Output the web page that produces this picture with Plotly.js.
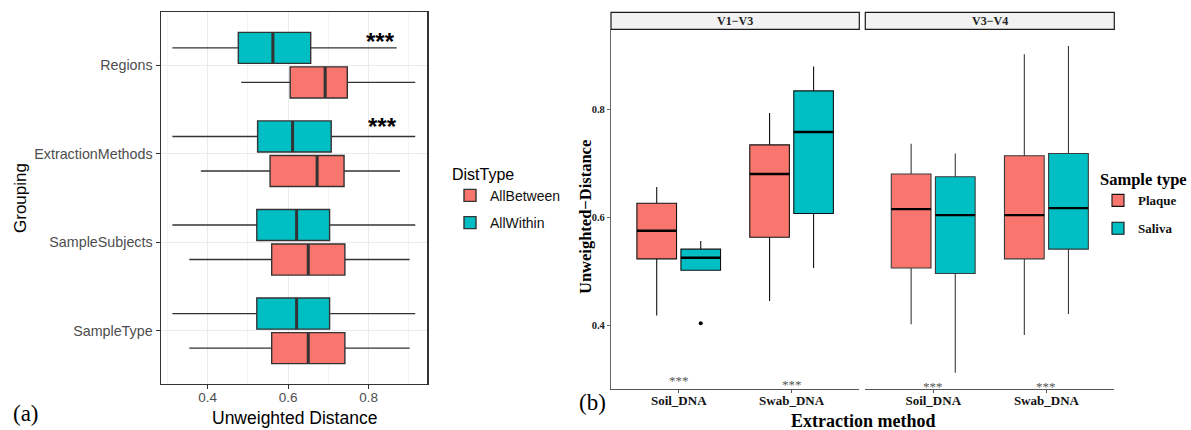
<!DOCTYPE html>
<html>
<head>
<meta charset="utf-8">
<script src="https://cdn.plot.ly/plotly-3.0.1.min.js"></script>
<style>html,body{margin:0;padding:0;background:#fff;}#chart{width:1191px;height:430px;}</style>
</head>
<body>
<div id="chart"></div>
<script>
// ---------- Panel (a) data ----------
const groupingCats = ['Regions', 'ExtractionMethods', 'SampleSubjects', 'SampleType'];
const groupingOrder = ['SampleType', 'SampleSubjects', 'ExtractionMethods', 'Regions'];
const betweenLower  = [0.483, 0.383, 0.354, 0.354];
const betweenQ1     = [0.605, 0.555, 0.559, 0.559];
const betweenMedian = [0.692, 0.672, 0.650, 0.650];
const betweenQ3     = [0.747, 0.739, 0.741, 0.741];
const betweenUpper  = [0.916, 0.878, 0.902, 0.902];
const withinLower   = [0.312, 0.312, 0.312, 0.312];
const withinQ1      = [0.476, 0.524, 0.522, 0.522];
const withinMedian  = [0.562, 0.611, 0.621, 0.621];
const withinQ3      = [0.656, 0.707, 0.703, 0.703];
const withinUpper   = [0.870, 0.916, 0.916, 0.916];
const starCatsA = ['Regions', 'ExtractionMethods'];
const starXA    = [0.829, 0.835];
const starLabelA = '***';

// ---------- Panel (b) data ----------
const methods = ['Soil_DNA', 'Swab_DNA'];
const facets = ['V1\u2212V3', 'V3\u2212V4'];
// V1-V3
const v13PlaqueLower  = [0.418, 0.445];
const v13PlaqueQ1     = [0.523, 0.563];
const v13PlaqueMedian = [0.575, 0.680];
const v13PlaqueQ3     = [0.626, 0.734];
const v13PlaqueUpper  = [0.656, 0.793];
const v13SalivaLower  = [0.502, 0.506];
const v13SalivaQ1     = [0.502, 0.607];
const v13SalivaMedian = [0.525, 0.758];
const v13SalivaQ3     = [0.541, 0.834];
const v13SalivaUpper  = [0.556, 0.879];
const v13SalivaOutlierCat = ['Soil_DNA'];
const v13SalivaOutlier    = [0.404];
// V3-V4
const v34PlaqueLower  = [0.402, 0.382];
const v34PlaqueQ1     = [0.506, 0.523];
const v34PlaqueMedian = [0.615, 0.604];
const v34PlaqueQ3     = [0.680, 0.714];
const v34PlaqueUpper  = [0.736, 0.902];
const v34SalivaLower  = [0.312, 0.421];
const v34SalivaQ1     = [0.496, 0.541];
const v34SalivaMedian = [0.604, 0.617];
const v34SalivaQ3     = [0.675, 0.718];
const v34SalivaUpper  = [0.718, 0.917];
const starYB13 = [0.298, 0.291];
const starYB34 = [0.287, 0.287];

const RED = '#F8766D', TEAL = '#00BFC4';
const SANS = 'Liberation Sans, Arial, sans-serif';
const SERIF = 'Liberation Serif, Times New Roman, serif';

function boxTrace(o) {
  const t = {
    type: 'box', name: o.name, orientation: o.h ? 'h' : 'v',
    q1: o.q1, median: o.median, q3: o.q3, lowerfence: o.lf, upperfence: o.uf,
    fillcolor: o.fill, line: {color: o.lineColor, width: o.lw},
    whiskerwidth: 0, boxpoints: false, offsetgroup: o.group, legendgroup: o.group,
    legend: o.legend, showlegend: o.showlegend, hoverinfo: 'skip',
    xaxis: o.xaxis, yaxis: o.yaxis
  };
  if (o.h) t.y = o.cats; else t.x = o.cats;
  return t;
}
function medianTrace(o) {
  const t = {
    type: 'box', name: o.name, orientation: o.h ? 'h' : 'v',
    q1: o.median, median: o.median, q3: o.median, lowerfence: o.median, upperfence: o.median,
    fillcolor: 'rgba(0,0,0,0)', line: {color: o.color, width: o.lw},
    whiskerwidth: 0, boxpoints: false, offsetgroup: o.group, legendgroup: o.group,
    showlegend: false, hoverinfo: 'skip', xaxis: o.xaxis, yaxis: o.yaxis
  };
  if (o.h) t.y = o.cats; else t.x = o.cats;
  return t;
}

const traces = [];
// Panel (a)
traces.push(boxTrace({name: 'AllBetween', h: true, cats: groupingCats, q1: betweenQ1, median: betweenMedian, q3: betweenQ3, lf: betweenLower, uf: betweenUpper, fill: RED, lineColor: '#333333', lw: 1.4, group: 'AllBetween', legend: 'legend', showlegend: true, xaxis: 'x', yaxis: 'y'}));
traces.push(boxTrace({name: 'AllWithin', h: true, cats: groupingCats, q1: withinQ1, median: withinMedian, q3: withinQ3, lf: withinLower, uf: withinUpper, fill: TEAL, lineColor: '#333333', lw: 1.4, group: 'AllWithin', legend: 'legend', showlegend: true, xaxis: 'x', yaxis: 'y'}));
traces.push(medianTrace({name: 'AllBetween', h: true, cats: groupingCats, median: betweenMedian, color: '#333333', lw: 3, group: 'AllBetween', xaxis: 'x', yaxis: 'y'}));
traces.push(medianTrace({name: 'AllWithin', h: true, cats: groupingCats, median: withinMedian, color: '#333333', lw: 3, group: 'AllWithin', xaxis: 'x', yaxis: 'y'}));

// Panel (b) V1-V3
traces.push(boxTrace({name: 'Plaque', h: false, cats: methods, q1: v13PlaqueQ1, median: v13PlaqueMedian, q3: v13PlaqueQ3, lf: v13PlaqueLower, uf: v13PlaqueUpper, fill: RED, lineColor: '#111111', lw: 1.1, group: 'Plaque', legend: 'legend2', showlegend: true, xaxis: 'x2', yaxis: 'y2'}));
traces.push(boxTrace({name: 'Saliva', h: false, cats: methods, q1: v13SalivaQ1, median: v13SalivaMedian, q3: v13SalivaQ3, lf: v13SalivaLower, uf: v13SalivaUpper, fill: TEAL, lineColor: '#111111', lw: 1.1, group: 'Saliva', legend: 'legend2', showlegend: true, xaxis: 'x2', yaxis: 'y2'}));
traces.push(medianTrace({name: 'Plaque', h: false, cats: methods, median: v13PlaqueMedian, color: '#000000', lw: 2.4, group: 'Plaque', xaxis: 'x2', yaxis: 'y2'}));
traces.push(medianTrace({name: 'Saliva', h: false, cats: methods, median: v13SalivaMedian, color: '#000000', lw: 2.4, group: 'Saliva', xaxis: 'x2', yaxis: 'y2'}));
traces.push({
  type: 'box', name: 'Saliva', x: v13SalivaOutlierCat, y: v13SalivaOutlier,
  boxpoints: 'all', jitter: 0, pointpos: 0, fillcolor: 'rgba(0,0,0,0)', line: {width: 0, color: 'rgba(0,0,0,0)'},
  marker: {color: '#000000', size: 4, line: {width: 0}}, whiskerwidth: 0,
  offsetgroup: 'Saliva', legendgroup: 'Saliva', showlegend: false, hoverinfo: 'skip', xaxis: 'x2', yaxis: 'y2'
});
// Panel (b) V3-V4
traces.push(boxTrace({name: 'Plaque', h: false, cats: methods, q1: v34PlaqueQ1, median: v34PlaqueMedian, q3: v34PlaqueQ3, lf: v34PlaqueLower, uf: v34PlaqueUpper, fill: RED, lineColor: '#3a3a3a', lw: 1.1, group: 'Plaque', legend: 'legend2', showlegend: false, xaxis: 'x3', yaxis: 'y2'}));
traces.push(boxTrace({name: 'Saliva', h: false, cats: methods, q1: v34SalivaQ1, median: v34SalivaMedian, q3: v34SalivaQ3, lf: v34SalivaLower, uf: v34SalivaUpper, fill: TEAL, lineColor: '#3a3a3a', lw: 1.1, group: 'Saliva', legend: 'legend2', showlegend: false, xaxis: 'x3', yaxis: 'y2'}));
traces.push(medianTrace({name: 'Plaque', h: false, cats: methods, median: v34PlaqueMedian, color: '#000000', lw: 2.4, group: 'Plaque', xaxis: 'x3', yaxis: 'y2'}));
traces.push(medianTrace({name: 'Saliva', h: false, cats: methods, median: v34SalivaMedian, color: '#000000', lw: 2.4, group: 'Saliva', xaxis: 'x3', yaxis: 'y2'}));

const W = 1191, H = 430;
const px = v => v / W, py = v => 1 - v / H;

const annotations = [];
const C = {xanchor: 'center', yanchor: 'middle', showarrow: false};
// stars panel (a)
starCatsA.forEach((c, i) => annotations.push(Object.assign({
  xref: 'x', yref: 'y', x: starXA[i], y: c, yshift: i === 0 ? 24 : 27, text: starLabelA,
  font: {family: SANS, size: 24, color: '#000', weight: 'bold'}
}, C)));
// stars panel (b)
methods.forEach((m, i) => {
  annotations.push(Object.assign({xref: 'x2', yref: 'y2', x: m, y: starYB13[i], text: '***', font: {family: SERIF, size: 13, color: '#555'}}, C));
  annotations.push(Object.assign({xref: 'x3', yref: 'y2', x: m, y: starYB34[i], text: '***', font: {family: SERIF, size: 13, color: '#555'}}, C));
});
// strip labels
annotations.push(Object.assign({xref: 'x2 domain', yref: 'paper', x: 0.5, y: py(21), text: facets[0], font: {family: SERIF, size: 12, color: '#222', weight: 'bold'}}, C));
annotations.push(Object.assign({xref: 'x3 domain', yref: 'paper', x: 0.5, y: py(21), text: facets[1], font: {family: SERIF, size: 12, color: '#222', weight: 'bold'}}, C));
// axis titles & panel tags
annotations.push(Object.assign({xref: 'paper', yref: 'paper', x: px(294), y: py(418), text: 'Unweighted Distance', font: {family: SANS, size: 17.5, color: '#000'}}, C));
annotations.push(Object.assign({xref: 'paper', yref: 'paper', x: px(20), y: py(198), text: 'Grouping', textangle: -90, font: {family: SANS, size: 17, color: '#000'}}, C));
annotations.push(Object.assign({xref: 'paper', yref: 'paper', x: px(25.5), y: py(413), text: '(a)', font: {family: SERIF, size: 23, color: '#000'}}, C));
annotations.push(Object.assign({xref: 'paper', yref: 'paper', x: px(592.5), y: py(402), text: '(b)', font: {family: SERIF, size: 23, color: '#000'}}, C));
annotations.push(Object.assign({xref: 'paper', yref: 'paper', x: px(863), y: py(421), text: 'Extraction method', font: {family: SERIF, size: 18, color: '#000', weight: 'bold'}}, C));
annotations.push(Object.assign({xref: 'paper', yref: 'paper', x: px(585), y: py(217), text: 'Unweighted\u2212Distance', textangle: -90, font: {family: SERIF, size: 16.5, color: '#000', weight: 'bold'}}, C));

const shapes = [
  {type: 'rect', xref: 'x2 domain', yref: 'paper', x0: 0, x1: 1, y0: py(29.3), y1: py(12.3), fillcolor: '#f2f2f2', line: {color: '#1a1a1a', width: 1.2}, layer: 'below'},
  {type: 'rect', xref: 'x3 domain', yref: 'paper', x0: 0, x1: 1, y0: py(29.3), y1: py(12.3), fillcolor: '#f2f2f2', line: {color: '#1a1a1a', width: 1.2}, layer: 'below'}
];

const layout = {
  width: W, height: H, margin: {l: 0, r: 0, t: 0, b: 0},
  paper_bgcolor: '#fff', plot_bgcolor: '#fff',
  boxmode: 'group', boxgap: 0.22, boxgroupgap: 0.1,
  showlegend: true,
  xaxis: {
    domain: [px(160.7), px(427.3)], anchor: 'y', range: [0.283, 0.946],
    tickvals: [0.4, 0.6, 0.8], ticktext: ['0.4', '0.6', '0.8'],
    showgrid: true, gridcolor: '#ebebeb', gridwidth: 1.1,
    minor: {tickvals: [0.3, 0.5, 0.7, 0.9], showgrid: true, gridcolor: '#f3f3f3', gridwidth: 0.8, ticks: ''},
    showline: true, mirror: true, linecolor: '#333', linewidth: 1.2,
    ticks: 'outside', ticklen: 4, tickcolor: '#333', tickwidth: 1.1, ticklabelstandoff: -3,
    tickfont: {family: SANS, size: 13.5, color: '#4d4d4d'}, zeroline: false, fixedrange: true
  },
  yaxis: {
    domain: [py(384), py(12)], anchor: 'x', type: 'category',
    categoryorder: 'array', categoryarray: groupingOrder, range: [-0.6, 3.6],
    showgrid: true, gridcolor: '#ebebeb', gridwidth: 1.1,
    showline: true, mirror: true, linecolor: '#333', linewidth: 1.2,
    ticks: 'outside', ticklen: 4, tickcolor: '#333', tickwidth: 1.1,
    tickfont: {family: SANS, size: 14.3, color: '#4d4d4d'}, zeroline: false, fixedrange: true
  },
  xaxis2: {
    domain: [px(611), px(859.3)], anchor: 'y2', type: 'category',
    categoryorder: 'array', categoryarray: methods, range: [-0.6, 1.6],
    showgrid: false, showline: true, linecolor: '#555', linewidth: 1.1,
    ticks: 'outside', ticklen: 3, tickcolor: '#555', ticklabelstandoff: -4,
    tickfont: {family: SERIF, size: 13, color: '#111', weight: 'bold'}, zeroline: false, fixedrange: true
  },
  xaxis3: {
    domain: [px(865.3), px(1114.3)], anchor: 'y2', type: 'category',
    categoryorder: 'array', categoryarray: methods, range: [-0.6, 1.6],
    showgrid: false, showline: true, linecolor: '#555', linewidth: 1.1,
    ticks: 'outside', ticklen: 3, tickcolor: '#555', ticklabelstandoff: -4,
    tickfont: {family: SERIF, size: 13, color: '#111', weight: 'bold'}, zeroline: false, fixedrange: true
  },
  yaxis2: {
    domain: [py(389.3), py(29.3)], anchor: 'x2', range: [0.2815, 0.948],
    tickvals: [0.4, 0.6, 0.8], ticktext: ['0.4', '0.6', '0.8'],
    showgrid: false, showline: true, linecolor: '#666', linewidth: 1.1,
    ticks: 'outside', ticklen: 3, tickcolor: '#666',
    tickfont: {family: SERIF, size: 10.5, color: '#222', weight: 'bold'}, zeroline: false, fixedrange: true
  },
  legend: {
    x: px(450), y: py(159), xanchor: 'left', yanchor: 'top', bgcolor: 'rgba(0,0,0,0)',
    title: {text: 'DistType', font: {family: SANS, size: 16, color: '#000'}},
    font: {family: SANS, size: 14, color: '#111'}, traceorder: 'grouped', tracegroupgap: 6
  },
  legend2: {
    x: px(1098), y: py(164), xanchor: 'left', yanchor: 'top', bgcolor: 'rgba(0,0,0,0)',
    title: {text: 'Sample type', font: {family: SERIF, size: 16.5, color: '#000', weight: 'bold'}},
    font: {family: SERIF, size: 13, color: '#111', weight: 'bold'}, traceorder: 'grouped', tracegroupgap: 8
  },
  annotations: annotations,
  shapes: shapes
};

Plotly.newPlot('chart', traces, layout, {displayModeBar: false, staticPlot: true});
</script>
</body>
</html>
